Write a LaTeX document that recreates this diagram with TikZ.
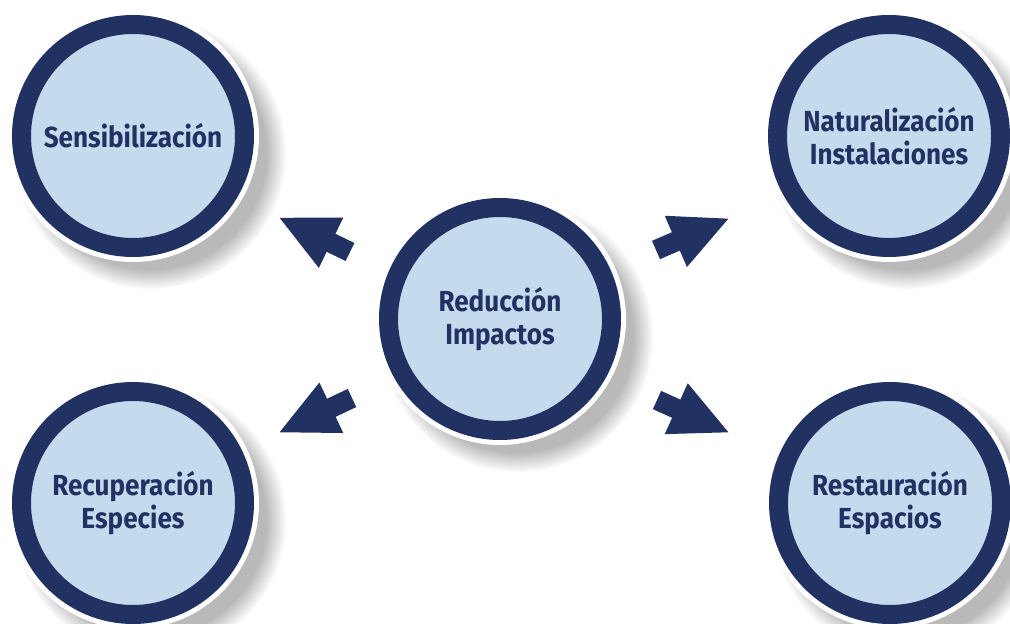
\documentclass[tikz,border=0pt]{standalone}
\usepackage{fontspec}
\setmainfont[FakeStretch=0.9]{Fira Sans}
\usetikzlibrary{arrows.meta,shadows}
\definecolor{navy}{HTML}{213262}
\definecolor{paleblue}{HTML}{C4DBEE}
\tikzset{
  bubble/.style={circle, minimum size=111.5pt, inner sep=0pt,
    circular drop shadow={shadow xshift=7pt, shadow yshift=-7pt,
      shadow scale=1.22, opacity=0.55},
    preaction={draw=white, line width=14.5pt},
    fill=paleblue, draw=navy, line width=9.5pt,
    text=navy, font=\fontsize{14.5}{16.5}\selectfont\bfseries, align=center},
  bigarrow/.style={draw=navy, line width=10pt, line cap=butt,
    -{Triangle[length=29.5pt, width=25.5pt]}}
}
\begin{document}
\begin{tikzpicture}[x=0.5pt, y=-0.5pt]
  \useasboundingbox (0,0) rectangle (1010,624);
  \fill[white] (0,0) rectangle (1010,624);

  % the five circles
  \node[bubble] (sens) at (133,136) {Sensibilización};
  \node[bubble] (natu) at (889,136) {Naturalización\\Instalaciones};
  \node[bubble] (redu) at (500,319) {Reducción\\Impactos};
  \node[bubble] (recu) at (133,503) {Recuperación\\Especies};
  \node[bubble] (rest) at (890,503) {Restauración\\Espacios};

  % arrow ends
  \coordinate (tlA) at (350,252); \coordinate (tlB) at (278,217);
  \coordinate (trA) at (656,250); \coordinate (trB) at (730,218);
  \coordinate (blA) at (352,398); \coordinate (blB) at (278,433);
  \coordinate (brA) at (657,400); \coordinate (brB) at (730,433);

  \draw[bigarrow] (tlA) -- (tlB);
  \draw[bigarrow] (trA) -- (trB);
  \draw[bigarrow] (blA) -- (blB);
  \draw[bigarrow] (brA) -- (brB);
\end{tikzpicture}
\end{document}
